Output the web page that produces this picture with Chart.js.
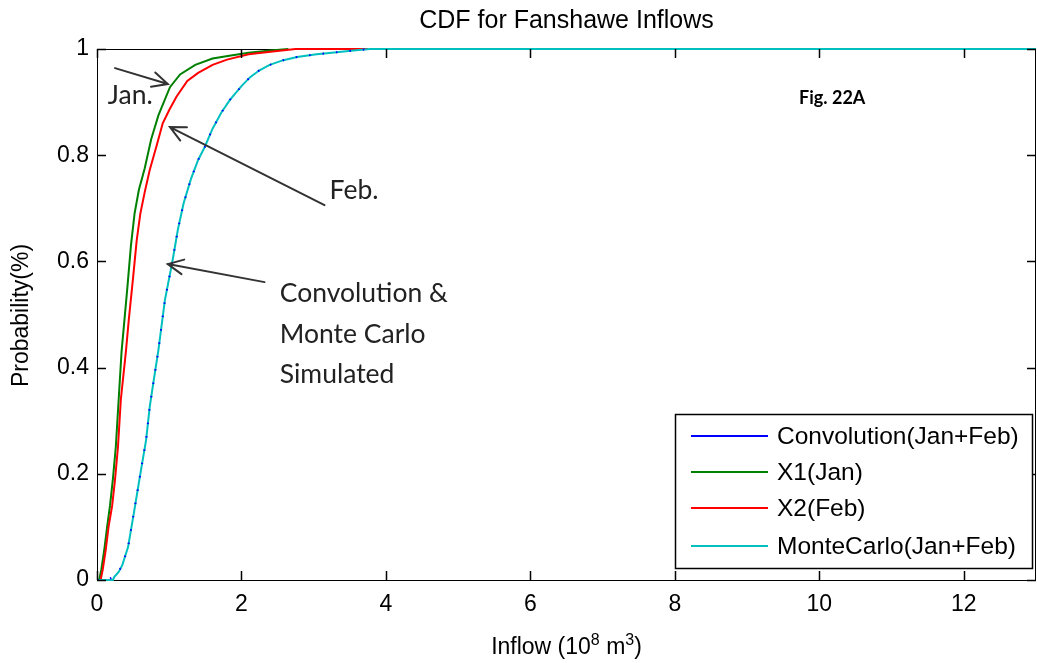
<!DOCTYPE html>
<html>
<head>
<meta charset="utf-8">
<title>CDF for Fanshawe Inflows</title>
<script src="https://cdn.jsdelivr.net/npm/chart.js@4.4.1/dist/chart.umd.min.js"></script>
<style>
  html, body { margin: 0; padding: 0; background: #fff; }
  #wrap { width: 1037px; height: 663px; }
</style>
</head>
<body>
<div id="wrap"><canvas id="chart" width="1037" height="663"></canvas></div>
<script>
// CDF curves, inflow in 10^8 m^3 vs cumulative probability
var janX = [0, 0.03, 0.06, 0.10, 0.14, 0.18, 0.22, 0.26, 0.30, 0.34, 0.38, 0.42, 0.47, 0.52, 0.58, 0.66, 0.75, 0.85, 1.01, 1.15, 1.36, 1.60, 1.81, 2.10, 2.40, 2.65];
var janP = [0, 0, 0.02, 0.056, 0.10, 0.14, 0.19, 0.25, 0.34, 0.43, 0.49, 0.55, 0.63, 0.69, 0.735, 0.775, 0.83, 0.875, 0.928, 0.952, 0.970, 0.982, 0.987, 0.993, 0.997, 1.0];

var febX = [0, 0.05, 0.08, 0.12, 0.16, 0.21, 0.25, 0.29, 0.33, 0.40, 0.44, 0.50, 0.55, 0.60, 0.66, 0.73, 0.83, 0.91, 1.00, 1.10, 1.25, 1.40, 1.60, 1.80, 2.10, 2.40, 2.75, 3.75];
var febP = [0, 0, 0.02, 0.056, 0.10, 0.14, 0.19, 0.25, 0.34, 0.43, 0.49, 0.57, 0.64, 0.69, 0.73, 0.772, 0.82, 0.86, 0.885, 0.91, 0.94, 0.955, 0.97, 0.98, 0.99, 0.995, 1.0, 1.0];

var convX = [0, 0.15, 0.24, 0.30, 0.35, 0.43, 0.51, 0.60, 0.68, 0.73, 0.79, 0.85, 0.94, 1.04, 1.12, 1.20, 1.30, 1.40, 1.49, 1.60, 1.72, 1.84, 2.00, 2.12, 2.25, 2.39, 2.58, 2.77, 3.04, 3.32, 3.55, 3.78];
var convP = [0, 0, 0.008, 0.016, 0.028, 0.062, 0.126, 0.20, 0.264, 0.326, 0.38, 0.433, 0.527, 0.597, 0.66, 0.71, 0.755, 0.791, 0.815, 0.85, 0.88, 0.904, 0.93, 0.947, 0.96, 0.970, 0.979, 0.985, 0.99, 0.994, 0.997, 1.0];

var mcX = [0, 0.22, 0.24, 0.30, 0.35, 0.43, 0.51, 0.60, 0.68, 0.73, 0.79, 0.85, 0.94, 1.04, 1.12, 1.20, 1.30, 1.40, 1.49, 1.60, 1.72, 1.84, 2.00, 2.12, 2.25, 2.39, 2.58, 2.77, 3.04, 3.32, 3.55, 3.78, 13];
var mcP = [0, 0, 0.006, 0.015, 0.028, 0.062, 0.126, 0.20, 0.264, 0.326, 0.38, 0.433, 0.527, 0.597, 0.66, 0.71, 0.755, 0.791, 0.815, 0.85, 0.88, 0.904, 0.93, 0.947, 0.96, 0.970, 0.979, 0.985, 0.99, 0.994, 0.997, 1.0, 1.0];

var seriesNames = ["Convolution(Jan+Feb)", "X1(Jan)", "X2(Feb)", "MonteCarlo(Jan+Feb)"];
var seriesColors = ["#0000ff", "#008000", "#ff0000", "#00bfbf"];

var xTicks = [0, 2, 4, 6, 8, 10, 12];
var yTicks = [0, 0.2, 0.4, 0.6, 0.8, 1];
var yTickLabels = ["0", "0.2", "0.4", "0.6", "0.8", "1"];

// notes on the plot, positions in axis units
var notes = [
    {text: "Jan.", x: 0.15, y: 0.913},
    {text: "Feb.", x: 3.22, y: 0.734},
    {text: "Convolution &", x: 2.53, y: 0.540},
    {text: "Monte Carlo", x: 2.53, y: 0.463},
    {text: "Simulated", x: 2.53, y: 0.388}
];
var arrows = [
    {x1: 0.25, y1: 0.964, x2: 0.98, y2: 0.934},
    {x1: 3.15, y1: 0.706, x2: 1.01, y2: 0.853},
    {x1: 2.32, y1: 0.561, x2: 0.98, y2: 0.595}
];

function pts(xs, ys) {
    return xs.map(function(x, i) { return {x: x, y: ys[i]}; });
}

var MFONT = "'Liberation Sans', Arial, sans-serif";
var NFONT = "Lato, 'Open Sans', sans-serif";

function drawArrow(ctx, x1, y1, x2, y2) {
    var a = Math.atan2(y2 - y1, x2 - x1);
    var h = 17, w = 0.45;
    ctx.beginPath();
    ctx.moveTo(x1, y1);
    ctx.lineTo(x2, y2);
    ctx.moveTo(x2 - h * Math.cos(a - w), y2 - h * Math.sin(a - w));
    ctx.lineTo(x2, y2);
    ctx.lineTo(x2 - h * Math.cos(a + w), y2 - h * Math.sin(a + w));
    ctx.stroke();
}

var decor = {
    id: 'decor',
    beforeDatasetsDraw: function(chart) {
        var ctx = chart.ctx, a = chart.chartArea;
        ctx.save();
        ctx.strokeStyle = "#000";
        ctx.lineWidth = 1;
        ctx.strokeRect(a.left + 0.5, a.top + 0.5, a.right - a.left - 1, a.bottom - a.top);
        ctx.restore();
    },
    afterDatasetsDraw: function(chart) {
        var ctx = chart.ctx, a = chart.chartArea;
        var xs = chart.scales.x, ys = chart.scales.y;
        ctx.save();

        // inward ticks on all four sides
        ctx.strokeStyle = "#000";
        ctx.lineWidth = 1.5;
        ctx.beginPath();
        xTicks.forEach(function(v) {
            var px = Math.round(xs.getPixelForValue(v)) + 0.5;
            ctx.moveTo(px, a.bottom); ctx.lineTo(px, a.bottom - 9);
            ctx.moveTo(px, a.top); ctx.lineTo(px, a.top + 9);
        });
        yTicks.forEach(function(v) {
            var py = Math.round(ys.getPixelForValue(v)) + 0.5;
            ctx.moveTo(a.left, py); ctx.lineTo(a.left + 9, py);
            ctx.moveTo(a.right, py); ctx.lineTo(a.right - 9, py);
        });
        ctx.stroke();

        // tick labels
        ctx.fillStyle = "#000";
        ctx.font = "23px " + MFONT;
        ctx.textAlign = "center";
        ctx.textBaseline = "top";
        xTicks.forEach(function(v) {
            ctx.fillText(String(v), xs.getPixelForValue(v), a.bottom + 13);
        });
        ctx.textAlign = "right";
        ctx.textBaseline = "middle";
        yTicks.forEach(function(v, i) {
            ctx.fillText(yTickLabels[i], a.left - 8, ys.getPixelForValue(v));
        });

        // title
        ctx.textAlign = "center";
        ctx.textBaseline = "middle";
        ctx.font = "25px " + MFONT;
        ctx.fillText("CDF for Fanshawe Inflows", (a.left + a.right) / 2, 21);

        // y axis title
        ctx.save();
        ctx.translate(22, (a.top + a.bottom) / 2 + 1);
        ctx.rotate(-Math.PI / 2);
        ctx.font = "23px " + MFONT;
        ctx.fillText("Probability(%)", 0, 0);
        ctx.restore();

        // x axis title with superscripts
        var parts = [
            {t: "Inflow (10", s: false},
            {t: "8", s: true},
            {t: " m", s: false},
            {t: "3", s: true},
            {t: ")", s: false}
        ];
        var total = 0;
        parts.forEach(function(p) {
            ctx.font = (p.s ? "16px " : "23px ") + MFONT;
            p.w = ctx.measureText(p.t).width;
            total += p.w;
        });
        var cx = (a.left + a.right) / 2 - total / 2;
        ctx.textAlign = "left";
        ctx.textBaseline = "alphabetic";
        parts.forEach(function(p) {
            ctx.font = (p.s ? "16px " : "23px ") + MFONT;
            ctx.fillText(p.t, cx, p.s ? 645 : 654);
            cx += p.w;
        });

        // arrows and notes
        ctx.strokeStyle = "#333";
        ctx.lineWidth = 2;
        ctx.lineCap = "round";
        arrows.forEach(function(r) {
            drawArrow(ctx, xs.getPixelForValue(r.x1), ys.getPixelForValue(r.y1),
                xs.getPixelForValue(r.x2), ys.getPixelForValue(r.y2));
        });
        ctx.fillStyle = "#222";
        ctx.font = "26.5px " + NFONT;
        ctx.textBaseline = "middle";
        notes.forEach(function(n) {
            ctx.fillText(n.text, xs.getPixelForValue(n.x), ys.getPixelForValue(n.y));
        });
        ctx.fillStyle = "#000";
        ctx.font = "bold 18px " + NFONT;
        ctx.fillText("Fig. 22A", xs.getPixelForValue(9.72), ys.getPixelForValue(0.908));

        // legend box
        var lx = a.right - 361, ly = a.bottom - 166, lw = 357, lh = 154;
        ctx.fillStyle = "#fff";
        ctx.fillRect(lx, ly, lw, lh);
        ctx.strokeStyle = "#000";
        ctx.lineWidth = 1.5;
        ctx.strokeRect(lx + 0.5, ly + 0.5, lw, lh);
        var rows = [22, 58, 94, 132];
        ctx.font = "24.5px " + MFONT;
        ctx.textAlign = "left";
        ctx.textBaseline = "middle";
        chart.data.datasets.forEach(function(ds, i) {
            var yy = ly + rows[i];
            ctx.strokeStyle = seriesColors[i];
            ctx.lineWidth = 2;
            ctx.lineCap = "butt";
            ctx.beginPath();
            ctx.moveTo(lx + 16, yy);
            ctx.lineTo(lx + 93, yy);
            ctx.stroke();
            ctx.fillStyle = "#000";
            ctx.fillText(ds.label, lx + 102, yy + 1);
        });
        ctx.restore();
    }
};

var ctx = document.getElementById('chart').getContext('2d');
var chart = new Chart(ctx, {
    type: 'line',
    data: {
        datasets: [
            {label: seriesNames[0], data: pts(convX, convP), borderColor: seriesColors[0], borderWidth: 2, borderDash: [1.5, 12], order: 0, clip: false},
            {label: seriesNames[1], data: pts(janX, janP), borderColor: seriesColors[1], borderWidth: 2, order: 3, clip: false},
            {label: seriesNames[2], data: pts(febX, febP), borderColor: seriesColors[2], borderWidth: 2, order: 2, clip: false},
            {label: seriesNames[3], data: pts(mcX, mcP), borderColor: seriesColors[3], borderWidth: 2, order: 1, clip: false}
        ]
    },
    options: {
        responsive: false,
        animation: false,
        elements: {
            point: {radius: 0},
            line: {tension: 0, fill: false}
        },
        layout: {padding: {left: 0, right: 1, top: 49, bottom: 0}},
        plugins: {
            legend: {display: false},
            tooltip: {enabled: false},
            title: {display: false}
        },
        scales: {
            x: {
                type: 'linear', min: 0, max: 13,
                grid: {display: false}, border: {display: false},
                ticks: {display: false},
                afterBuildTicks: function(s) { s.ticks = xTicks.map(function(v) { return {value: v}; }); },
                afterFit: function(s) { s.height = 83; }
            },
            y: {
                type: 'linear', min: 0, max: 1,
                grid: {display: false}, border: {display: false},
                ticks: {display: false},
                afterBuildTicks: function(s) { s.ticks = yTicks.map(function(v) { return {value: v}; }); },
                afterFit: function(s) { s.width = 97; }
            }
        }
    },
    plugins: [decor]
});
</script>
</body>
</html>
